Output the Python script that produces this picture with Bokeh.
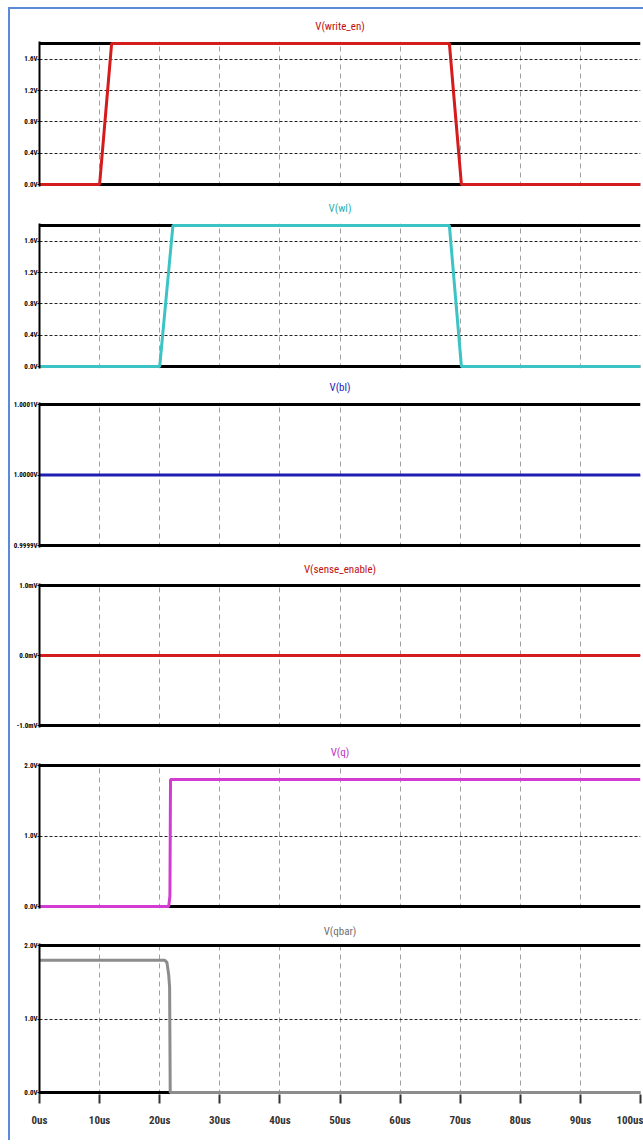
from bokeh.plotting import figure
from bokeh.layouts import column
from bokeh.models import Range1d, FixedTicker, Span
from bokeh.embed import file_html
from bokeh.resources import INLINE

# ---- data (time in us, voltage in V) ----
t_write_en = [0, 10.0, 12.0, 68.2, 70.2, 100]
v_write_en = [0.0, 0.0, 1.8, 1.8, 0.0, 0.0]

t_wl = [0, 20.0, 22.2, 68.2, 70.2, 100]
v_wl = [0.0, 0.0, 1.8, 1.8, 0.0, 0.0]

t_bl = [0, 100]
v_bl = [1.0, 1.0]

t_sense = [0, 100]
v_sense = [0.0, 0.0]

t_q = [0, 21.5, 21.7, 21.8, 100]
v_q = [0.0, 0.0, 0.15, 1.8, 1.8]

t_qbar = [0, 20.8, 21.2, 21.5, 21.65, 21.75, 100]
v_qbar = [1.8, 1.8, 1.77, 1.6, 1.43, 0.0, 0.0]

x_ticks = [0, 10, 20, 30, 40, 50, 60, 70, 80, 90, 100]
x_labels = ["0us", "10us", "20us", "30us", "40us", "50us", "60us", "70us", "80us", "90us", "100us"]

titles = ["V(write_en)", "V(wl)", "V(bl)", "V(sense_enable)", "V(q)", "V(qbar)"]
colors = ["#d41c1c", "#3cc4c4", "#1e1eb4", "#d41c1c", "#d23cd2", "#8c8c8c"]
title_colors = ["#c01010", "#2ab0b0", "#1e1eb4", "#c01010", "#c030c0", "#707070"]

y_ranges = [(0.0, 1.8), (0.0, 1.8), (0.9999, 1.0001), (-0.001, 0.001), (0.0, 2.0), (0.0, 2.0)]
y_ticks = [
    [0.0, 0.4, 0.8, 1.2, 1.6],
    [0.0, 0.4, 0.8, 1.2, 1.6],
    [0.9999, 1.0, 1.0001],
    [-0.001, 0.0, 0.001],
    [0.0, 1.0, 2.0],
    [0.0, 1.0, 2.0],
]
y_labels = [
    ["0.0V", "0.4V", "0.8V", "1.2V", "1.6V"],
    ["0.0V", "0.4V", "0.8V", "1.2V", "1.6V"],
    ["0.9999V", "1.0000V", "1.0001V"],
    ["-1.0mV", "0.0mV", "1.0mV"],
    ["0.0V", "1.0V", "2.0V"],
    ["0.0V", "1.0V", "2.0V"],
]
series_t = [t_write_en, t_wl, t_bl, t_sense, t_q, t_qbar]
series_v = [v_write_en, v_wl, v_bl, v_sense, v_q, v_qbar]

# ---- layout (pixel geometry) ----
# (border above frame, distance between extreme value lines, border below)
geom = [(32, 141, 7), (30, 141, 3), (31, 141, 8), (28, 140, 13), (23, 141, 12), (23, 147, 46)]
title_shift = [0, 2, 0, 2, 0, 3]

FONT = "'Liberation Sans Narrow', 'Arial Narrow', 'Roboto Condensed', 'DejaVu Sans Condensed', 'Liberation Sans', sans-serif"
FIG_W = 633
LEFT = 29
FRAME_W = 601

figs = []
for i in range(6):
    top, span_px, bottom = geom[i]
    lo, hi = y_ranges[i]
    pad = (hi - lo) / span_px * 2.0
    last = (i == 5)
    p = figure(width=FIG_W, height=top + span_px + 4 + bottom,
               x_range=Range1d(0, 100), y_range=Range1d(lo - pad, hi + pad),
               output_backend="svg", toolbar_location=None,
               min_border_left=LEFT, min_border_right=FIG_W - LEFT - FRAME_W,
               min_border_top=top, min_border_bottom=bottom)
    p.outline_line_color = None
    p.background_fill_color = "white"
    p.border_fill_color = "white"

    p.title.text = titles[i]
    p.title.align = "center"
    p.title.vertical_align = "top"
    p.title.text_color = title_colors[i]
    p.title.text_font = FONT
    p.title.text_font_size = "11px"
    p.title.text_font_style = "normal"
    p.title.standoff = max(0, top - 18 + title_shift[i])

    # y axis
    p.yaxis.ticker = FixedTicker(ticks=y_ticks[i])
    p.yaxis.major_label_overrides = {t: l for t, l in zip(y_ticks[i], y_labels[i])}
    p.yaxis.major_label_text_font = FONT
    p.yaxis.major_label_text_font_size = "7px"
    p.yaxis.major_label_text_font_style = "bold"
    p.yaxis.major_label_text_color = "black"
    p.yaxis.major_label_standoff = 0
    p.yaxis.axis_line_color = "black"
    p.yaxis.axis_line_width = 2
    p.yaxis.major_tick_in = 0
    p.yaxis.major_tick_out = 2
    p.yaxis.minor_tick_in = 0
    p.yaxis.minor_tick_out = 0
    p.yaxis.major_tick_line_color = "black"
    p.yaxis.minor_tick_line_color = None

    # grids
    p.ygrid.ticker = FixedTicker(ticks=[t for t in y_ticks[i] if lo < t < hi])
    p.ygrid.grid_line_color = "#222222"
    p.ygrid.grid_line_dash = "3 2"
    p.ygrid.grid_line_width = 1
    p.xgrid.ticker = FixedTicker(ticks=x_ticks[1:-1])
    p.xgrid.grid_line_color = "#a0a0a0"
    p.xgrid.grid_line_dash = "5 4"
    p.xgrid.grid_line_width = 1

    # x axis only on bottom panel
    if last:
        p.xaxis.ticker = FixedTicker(ticks=x_ticks)
        p.xaxis.major_label_overrides = {t: l for t, l in zip(x_ticks, x_labels)}
        p.xaxis.major_label_text_font = FONT
        p.xaxis.major_label_text_font_size = "11px"
        p.xaxis.major_label_text_font_style = "bold"
        p.xaxis.major_label_text_color = "#333333"
        p.xaxis.major_label_standoff = 10
        p.xaxis.axis_line_color = None
        p.xaxis.major_tick_in = 0
        p.xaxis.major_tick_out = 9
        p.xaxis.minor_tick_in = 0
        p.xaxis.minor_tick_out = 0
        p.xaxis.major_tick_line_color = "#333333"
        p.xaxis.major_tick_line_width = 2
        p.xaxis.minor_tick_line_color = None
    else:
        p.xaxis.visible = False

    # thick black top/bottom frame lines at the extreme values (beneath the traces)
    p.add_layout(Span(location=hi, dimension="width", line_color="black", line_width=3, level="underlay"))
    p.add_layout(Span(location=lo, dimension="width", line_color="black", line_width=3, level="underlay"))

    p.line(series_t[i], series_v[i], line_color=colors[i], line_width=3)
    figs.append(p)

layout = column(*figs, spacing=0,
                styles={"margin-left": "8px", "margin-top": "7px",
                        "border-left": "2px solid #5a8ad8", "border-top": "2px solid #5a8ad8"})

open("out.html", "w").write(file_html(layout, INLINE))
